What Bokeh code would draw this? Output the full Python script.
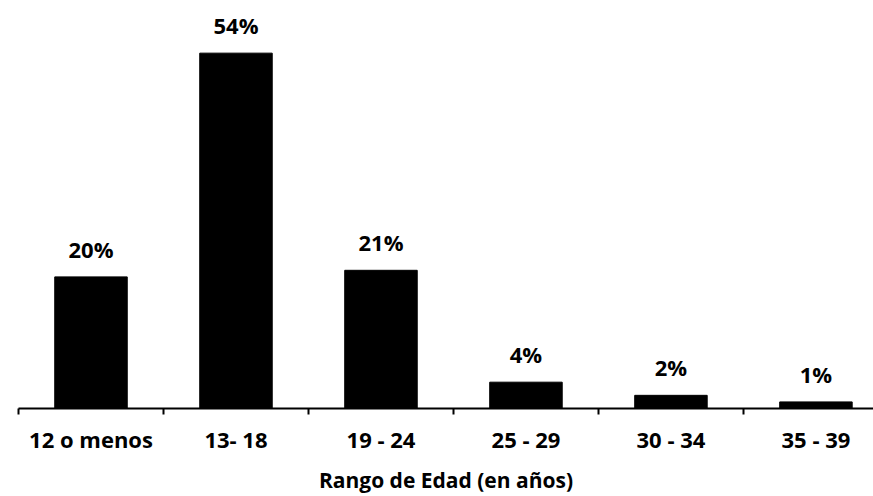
from bokeh.plotting import figure
from bokeh.models import Range1d, FixedTicker, ColumnDataSource
from bokeh.embed import file_html
from bokeh.resources import INLINE
from bokeh.core.properties import value

categories = ["12 o menos", "13- 18", "19 - 24", "25 - 29", "30 - 34", "35 - 39"]
percentages = [20, 54, 21, 4, 2, 1]
bar_labels = ["20%", "54%", "21%", "4%", "2%", "1%"]
x_title = "Rango de Edad (en años)"

xs = list(range(len(categories)))
src = ColumnDataSource(dict(x=xs, top=percentages, label=bar_labels))

FONT = "Open Sans"

p = figure(width=873, height=496, output_backend="svg", toolbar_location=None,
           x_range=Range1d(-0.5, len(categories) - 0.603), y_range=Range1d(0, 62.0),
           min_border_left=18, min_border_right=0, min_border_top=0, min_border_bottom=87)
p.outline_line_color = None
p.grid.visible = False
p.yaxis.visible = False
p.background_fill_color = "white"
p.border_fill_color = "white"

p.vbar(x="x", top="top", width=0.5, source=src, fill_color="black", line_color="black")
p.text(x="x", y="top", text="label", source=src, text_align="center", text_baseline="bottom",
       y_offset=-13, text_font=value(FONT), text_font_style="bold", text_font_size="22px",
       text_color="black")

ax = p.xaxis[0]
ax.ticker = FixedTicker(ticks=xs, minor_ticks=[i - 0.5 for i in range(len(categories) + 1)])
ax.major_label_overrides = {i: c for i, c in zip(xs, categories)}
ax.major_tick_out = 0
ax.major_tick_in = 0
ax.minor_tick_out = 6
ax.minor_tick_in = 0
ax.minor_tick_line_color = "black"
ax.minor_tick_line_width = 2
ax.axis_line_color = "black"
ax.axis_line_width = 2
ax.major_label_text_font = FONT
ax.major_label_text_font_style = "bold"
ax.major_label_text_font_size = "22px"
ax.major_label_text_color = "black"
ax.major_label_standoff = 9
ax.axis_label = x_title
ax.axis_label_text_font = FONT
ax.axis_label_text_font_style = "bold"
ax.axis_label_text_font_size = "21px"
ax.axis_label_text_color = "black"
ax.axis_label_standoff = 9

open("out.html", "w").write(file_html(p, INLINE))
